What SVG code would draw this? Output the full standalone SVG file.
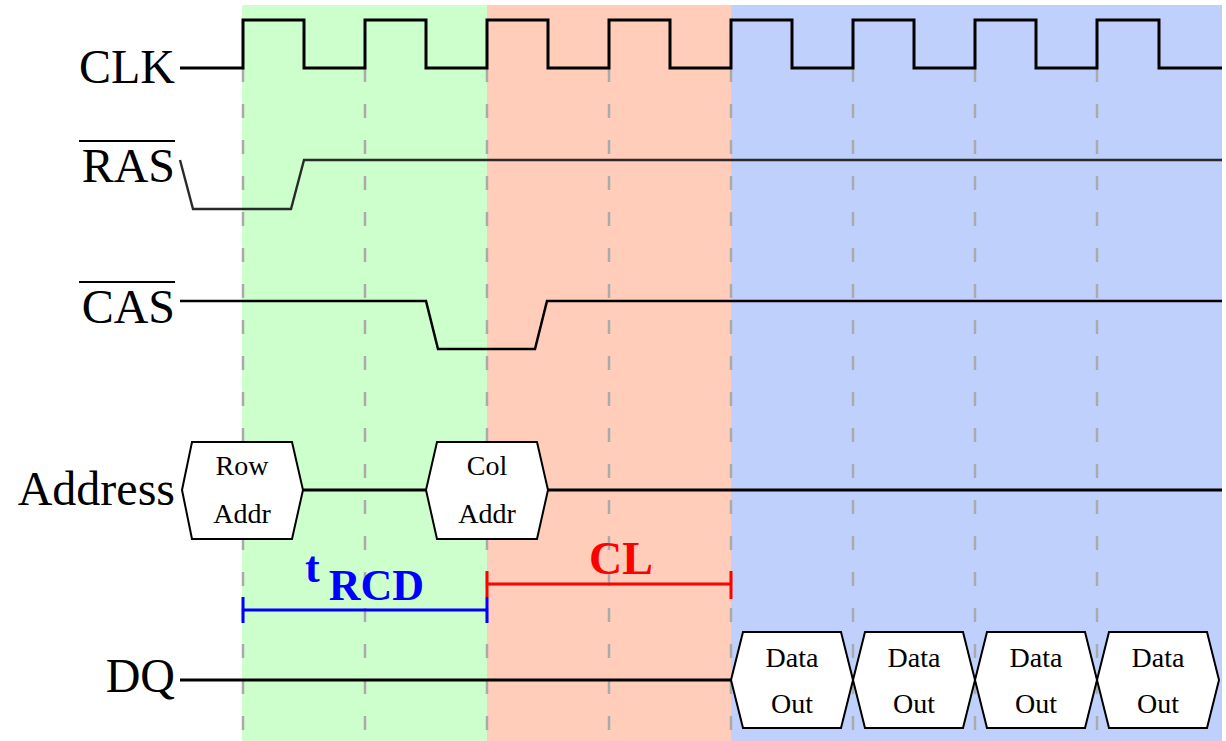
<svg xmlns="http://www.w3.org/2000/svg" width="1226" height="741" viewBox="0 0 1226 741">
<style>
.lbl{font-family:"Liberation Serif","Times New Roman",serif;font-size:48px;fill:#000;text-anchor:end}
.hx{fill:#fff;stroke:#000;stroke-width:2}
.ht{font-family:"Liberation Serif","Times New Roman",serif;font-size:28px;fill:#000;text-anchor:middle}
.sig{fill:none;stroke:#000;stroke-width:3;stroke-linejoin:miter}
.grid{stroke:#aaa;stroke-width:2.5;stroke-dasharray:14 22}
.ov{stroke:#000;stroke-width:2}
</style>
<rect width="1226" height="741" fill="#fff"/>
<g id="phases">
<rect x="242" y="5" width="245" height="736" fill="#ccffcc"/>
<rect x="487" y="5" width="244" height="736" fill="#ffcdb9"/>
<rect x="731" y="5" width="491" height="736" fill="#c0d0fd"/>
</g>
<g id="gridlines">
<line class="grid" x1="243" y1="68" x2="243" y2="741"/>
<line class="grid" x1="365" y1="68" x2="365" y2="741"/>
<line class="grid" x1="487" y1="68" x2="487" y2="741"/>
<line class="grid" x1="609" y1="68" x2="609" y2="741"/>
<line class="grid" x1="731" y1="68" x2="731" y2="741"/>
<line class="grid" x1="853" y1="68" x2="853" y2="741"/>
<line class="grid" x1="975" y1="68" x2="975" y2="741"/>
<line class="grid" x1="1097" y1="68" x2="1097" y2="741"/>
</g>
<g id="clk">
<text class="lbl" x="175" y="83">CLK</text>
<polyline class="sig" points="180,68 243,68 243,20 304,20 304,68 365,68 365,20 426,20 426,68 487,68 487,20 548,20 548,68 609,68 609,20 670,20 670,68 731,68 731,20 792,20 792,68 853,68 853,20 914,20 914,68 975,68 975,20 1036,20 1036,68 1097,68 1097,20 1159,20 1159,68 1222,68"/>
</g>
<g id="ras">
<text class="lbl" x="175" y="182">RAS</text>
<line class="ov" x1="79" y1="141" x2="175" y2="141"/>
<polyline fill="none" stroke="#2a2a2a" stroke-width="2.4" points="180,160 193,209 291,209 304,160 1222,160"/>
</g>
<g id="cas">
<text class="lbl" x="175" y="323">CAS</text>
<line class="ov" x1="79" y1="282" x2="175" y2="282"/>
<polyline fill="none" stroke="#000" stroke-width="2.5" points="180,301 426,301 438,349 535,349 547,301 1222,301"/>
</g>
<g id="address">
<text class="lbl" x="175" y="505">Address</text>
<line class="sig" x1="303" y1="490" x2="426" y2="490"/>
<line class="sig" x1="548" y1="490" x2="1222" y2="490"/>
<g id="row-addr">
<polygon class="hx" points="182,490 192,442 292,442 303,490 292,539 192,539"/>
<text class="ht" x="242" y="475">Row</text>
<text class="ht" x="242" y="523">Addr</text>
</g>
<g id="col-addr">
<polygon class="hx" points="426,490 437,442 537,442 548,490 537,539 437,539"/>
<text class="ht" x="487" y="475">Col</text>
<text class="ht" x="487" y="523">Addr</text>
</g>
</g>
<g id="trcd">
<g stroke="#0000ff" stroke-width="3">
<line x1="243" y1="610" x2="487" y2="610"/>
<line x1="243" y1="597" x2="243" y2="623"/>
<line x1="487" y1="597" x2="487" y2="623"/>
</g>
<text x="305" y="582" font-family="Liberation Serif,serif" font-weight="bold" font-size="44" fill="#0000ff">t<tspan dx="9" dy="18">RCD</tspan></text>
</g>
<g id="cl">
<g stroke="#ff0000" stroke-width="3">
<line x1="487" y1="584" x2="731" y2="584"/>
<line x1="487" y1="571" x2="487" y2="597"/>
<line x1="731" y1="571" x2="731" y2="599"/>
</g>
<text x="621" y="574" font-family="Liberation Serif,serif" font-weight="bold" font-size="46" fill="#ff0000" text-anchor="middle">CL</text>
</g>
<g id="dq">
<text class="lbl" x="175" y="692">DQ</text>
<line class="sig" x1="180" y1="680" x2="731" y2="680"/>
<g id="data-out-1">
<polygon class="hx" points="731,680 743,632 841,632 853,680 841,728 743,728"/>
<text class="ht" x="792" y="667">Data</text>
<text class="ht" x="792" y="713">Out</text>
</g>
<g id="data-out-2">
<polygon class="hx" points="853,680 865,632 963,632 975,680 963,728 865,728"/>
<text class="ht" x="914" y="667">Data</text>
<text class="ht" x="914" y="713">Out</text>
</g>
<g id="data-out-3">
<polygon class="hx" points="975,680 987,632 1085,632 1097,680 1085,728 987,728"/>
<text class="ht" x="1036" y="667">Data</text>
<text class="ht" x="1036" y="713">Out</text>
</g>
<g id="data-out-4">
<polygon class="hx" points="1097,680 1109,632 1207,632 1219,680 1207,728 1109,728"/>
<text class="ht" x="1158" y="667">Data</text>
<text class="ht" x="1158" y="713">Out</text>
</g>
</g>
</svg>
